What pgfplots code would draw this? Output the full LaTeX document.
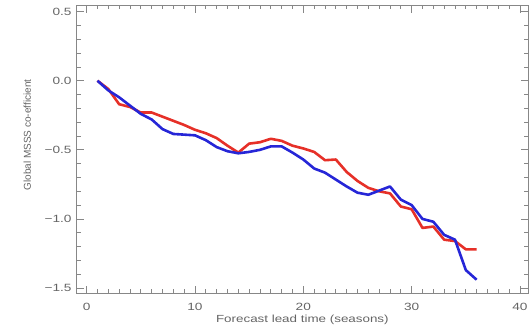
\documentclass[border=0pt]{standalone}
\usepackage{pgfplots}
\pgfplotsset{compat=1.18}
\usepackage{fontspec}
\setmainfont{Liberation Sans}[FakeStretch=1.3]
\newfontfamily\ylfont{Liberation Sans}
\definecolor{cred}{RGB}{230,48,40}
\definecolor{cblue}{RGB}{38,38,215}
\definecolor{txtgray}{RGB}{100,100,100}
\definecolor{axgray}{RGB}{135,135,135}
\begin{document}
\begin{tikzpicture}
\useasboundingbox (-76.7pt,-36.7pt) rectangle (454.3pt,293.3pt);
\begin{axis}[
  scale only axis,
  width=451.3pt, height=288.3pt,
  xmin=-0.92, xmax=40.74,
  ymin=-1.538, ymax=0.548,
  axis line style={axgray, line width=0.8pt},
  every tick/.style={axgray, line width=0.7pt},
  tick align=inside,
  xtick pos=both, ytick pos=both,
  major tick length=7.5pt,
  minor tick length=4pt,
  xtick={0,10,20,30,40},
  xticklabels={0,10,20,30,40},
  ytick={-1.5,-1,-0.5,0,0.5},
  yticklabels={−1.5,−1.0,−0.5,0.0,0.5},
  minor x tick num=9,
  minor y tick num=4,
  xticklabel style={font=\fontsize{10.5}{12}\selectfont, text=txtgray, anchor=center, yshift=-13.5pt},
  yticklabel style={font=\fontsize{10.5}{12}\selectfont, text=txtgray, anchor=east, inner sep=0pt, xshift=-5pt},
  xlabel={Forecast lead time (seasons)},
  ylabel={Global MSSS co-efficient},
  xlabel style={font=\fontsize{10.3}{12}\selectfont, text=txtgray, at={(axis description cs:0.5,-0.0937)}, anchor=center},
  ylabel style={font=\ylfont\fontsize{10}{12}\selectfont, text=txtgray, at={(axis description cs:-0.1095,0.549)}, anchor=center},
]
\addplot[cred, line width=2.6pt, line join=round] coordinates {
(1,0.00) (2,-0.06) (3,-0.17) (4,-0.19) (5,-0.23) (6,-0.23) (7,-0.26) (8,-0.29)
(9,-0.32) (10,-0.355) (11,-0.38) (12,-0.415) (13,-0.47) (14,-0.52) (15,-0.455)
(16,-0.445) (17,-0.42) (18,-0.435) (19,-0.47) (20,-0.49) (21,-0.515) (22,-0.575)
(23,-0.57) (24,-0.66) (25,-0.725) (26,-0.775) (27,-0.80) (28,-0.815) (29,-0.91)
(30,-0.93) (31,-1.065) (32,-1.055) (33,-1.15) (34,-1.16) (35,-1.22) (36,-1.22)
};
\addplot[cblue, line width=2.6pt, line join=round] coordinates {
(1,0.00) (2,-0.07) (3,-0.12) (4,-0.18) (5,-0.24) (6,-0.28) (7,-0.35) (8,-0.385)
(9,-0.39) (10,-0.395) (11,-0.43) (12,-0.48) (13,-0.51) (14,-0.525) (15,-0.515)
(16,-0.50) (17,-0.475) (18,-0.475) (19,-0.52) (20,-0.57) (21,-0.635) (22,-0.665)
(23,-0.715) (24,-0.765) (25,-0.81) (26,-0.825) (27,-0.795) (28,-0.765) (29,-0.86)
(30,-0.90) (31,-1.00) (32,-1.02) (33,-1.115) (34,-1.15) (35,-1.37) (36,-1.44)
};
\end{axis}
\end{tikzpicture}
\end{document}
